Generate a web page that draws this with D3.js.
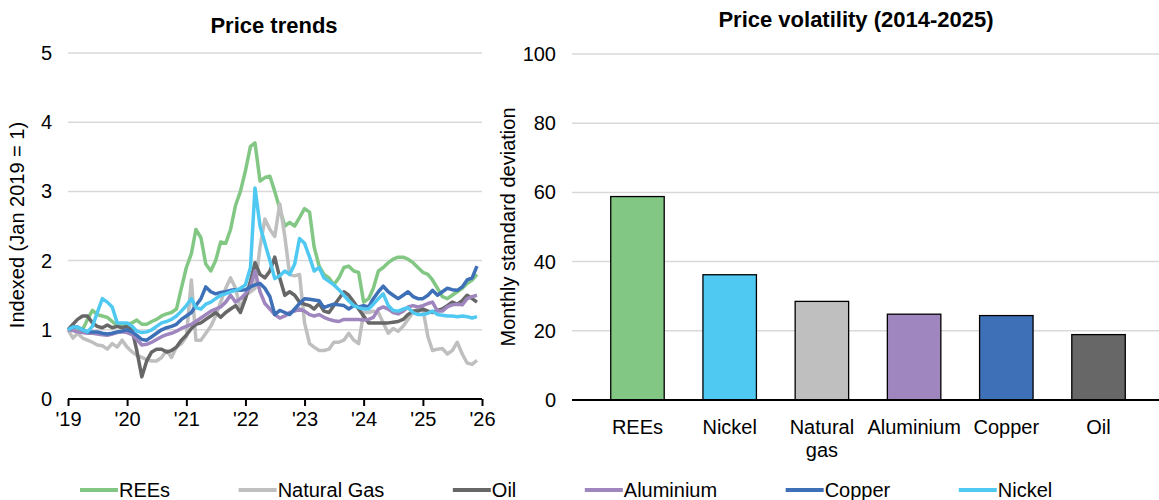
<!DOCTYPE html>
<html>
<head>
<meta charset="utf-8">
<script src="https://cdn.jsdelivr.net/npm/d3@7"></script>
<style>
  body { margin: 0; background: #fff; }
  svg { font-family: "Liberation Sans", Arial, sans-serif; }
  .grid line { stroke: #d9d9d9; stroke-width: 1.5; }
  .title { font-weight: bold; font-size: 22px; }
  .tick text { font-size: 20px; fill: #000; }
</style>
</head>
<body>
<div id="chart-area"><svg></svg></div>
<script>
const chartSize = { width: 1159, height: 500 };

// monthly index values, Jan 2019 .. Dec 2025
const ree = [1.0,1.0,0.98,1.0,1.15,1.28,1.22,1.2,1.18,1.12,1.06,1.05,1.08,1.1,1.14,1.08,1.08,1.12,1.15,1.2,1.23,1.25,1.3,1.6,
  1.9,2.1,2.45,2.33,1.95,1.85,2.0,2.27,2.25,2.45,2.8,3.0,3.3,3.65,3.7,3.15,3.2,3.22,3.0,2.75,2.5,2.55,2.5,2.62,
  2.75,2.7,2.2,1.92,1.8,1.75,1.65,1.75,1.9,1.92,1.85,1.83,1.4,1.45,1.6,1.85,1.9,1.97,2.02,2.05,2.05,2.02,1.97,1.9,
  1.83,1.8,1.72,1.6,1.48,1.45,1.5,1.55,1.6,1.67,1.72,1.8];
const gas = [1.0,0.88,0.95,0.88,0.85,0.82,0.78,0.77,0.72,0.8,0.75,0.85,0.75,0.68,0.63,0.6,0.57,0.55,0.55,0.6,0.7,0.6,0.75,0.8,
  0.9,1.72,0.85,0.85,0.95,1.05,1.2,1.4,1.6,1.75,1.6,1.3,1.5,1.55,1.6,2.2,2.6,2.45,2.35,2.82,2.35,1.8,1.78,1.8,
  1.1,0.8,0.75,0.7,0.7,0.72,0.82,0.82,0.85,0.95,0.85,0.8,1.25,1.25,1.27,1.25,1.1,0.95,1.02,0.98,1.05,1.15,1.25,1.3,
  1.3,0.9,0.7,0.72,0.73,0.65,0.7,0.82,0.65,0.52,0.5,0.56];
const oil = [1.0,1.08,1.15,1.2,1.2,1.1,1.05,1.03,1.07,1.03,1.05,1.03,1.05,1.0,0.7,0.32,0.55,0.68,0.72,0.72,0.68,0.7,0.75,0.85,
  0.92,1.02,1.08,1.1,1.15,1.2,1.25,1.18,1.25,1.3,1.35,1.25,1.45,1.7,1.97,1.8,1.75,1.85,2.05,1.75,1.5,1.55,1.5,1.4,
  1.37,1.35,1.3,1.38,1.27,1.25,1.35,1.45,1.55,1.5,1.4,1.3,1.2,1.1,1.1,1.1,1.1,1.1,1.11,1.12,1.15,1.22,1.27,1.27,
  1.3,1.27,1.25,1.28,1.3,1.35,1.4,1.37,1.42,1.5,1.45,1.4];
const aluminium = [1.0,0.99,0.97,0.96,0.95,0.95,0.94,0.93,0.92,0.94,0.96,0.97,0.96,0.93,0.86,0.78,0.79,0.82,0.86,0.9,0.93,0.95,0.98,1.02,
  1.05,1.08,1.12,1.17,1.22,1.27,1.3,1.33,1.4,1.5,1.4,1.45,1.52,1.62,1.85,1.55,1.38,1.3,1.22,1.17,1.2,1.25,1.27,1.3,
  1.27,1.22,1.2,1.22,1.18,1.15,1.13,1.12,1.15,1.15,1.15,1.15,1.14,1.15,1.18,1.3,1.33,1.3,1.25,1.23,1.27,1.33,1.35,1.33,
  1.35,1.38,1.4,1.27,1.27,1.33,1.36,1.37,1.36,1.45,1.48,1.5];
const copper = [1.0,1.04,1.04,1.0,0.97,0.97,0.97,0.95,0.94,0.95,0.97,0.98,1.0,0.97,0.92,0.86,0.85,0.9,0.95,1.0,1.03,1.05,1.08,1.15,
  1.2,1.25,1.35,1.45,1.62,1.55,1.52,1.54,1.55,1.57,1.58,1.57,1.58,1.62,1.65,1.67,1.6,1.48,1.22,1.28,1.25,1.22,1.3,1.38,
  1.45,1.44,1.43,1.42,1.32,1.35,1.37,1.36,1.35,1.3,1.35,1.33,1.35,1.33,1.45,1.55,1.63,1.55,1.5,1.45,1.5,1.55,1.48,1.45,
  1.45,1.5,1.57,1.5,1.55,1.6,1.58,1.57,1.62,1.72,1.75,1.92];
const nickel = [1.0,1.04,1.04,1.0,0.97,1.05,1.25,1.45,1.4,1.33,1.1,1.1,1.1,1.05,0.98,0.96,0.97,1.0,1.05,1.1,1.12,1.15,1.2,1.27,
  1.35,1.45,1.32,1.3,1.37,1.4,1.45,1.5,1.52,1.55,1.57,1.6,1.65,1.9,3.05,2.5,2.25,2.0,1.74,1.78,1.85,1.8,1.95,2.32,
  2.25,2.05,1.85,1.9,1.75,1.7,1.65,1.58,1.5,1.42,1.35,1.32,1.3,1.3,1.37,1.45,1.52,1.35,1.28,1.27,1.3,1.32,1.25,1.22,
  1.22,1.24,1.27,1.22,1.21,1.2,1.2,1.19,1.2,1.19,1.17,1.19];

const seriesNames = ["REEs", "Natural Gas", "Oil", "Aluminium", "Copper", "Nickel"];
const seriesColours = ["#82c884", "#bfbfbf", "#676767", "#9f86be", "#3e70b8", "#50c9f2"];
const seriesValues = [ree, gas, oil, aluminium, copper, nickel];
const trendTicks = [0, 1, 2, 3, 4, 5];

// volatility bars
const commodities = ["REEs", "Nickel", "Natural gas", "Aluminium", "Copper", "Oil"];
const volatility = [58.8, 36.2, 28.5, 24.8, 24.4, 18.9];
const barColours = ["#82c884", "#50c9f2", "#bfbfbf", "#9f86be", "#3e70b8", "#676767"];
const volatilityTicks = [0, 20, 40, 60, 80, 100];

const svg = d3.select("#chart-area svg")
  .attr("width", chartSize.width)
  .attr("height", chartSize.height);

const start = new Date(2019, 0, 1);
const months = d3.range(ree.length).map(i => d3.timeMonth.offset(start, i));

const drawTrends = () => {
  const left = { x0: 68, x1: 482, y0: 399, y1: 53 };
  const x = d3.scaleTime().domain([start, new Date(2026, 0, 1)]).range([left.x0, left.x1]);
  const y = d3.scaleLinear().domain([0, 5]).range([left.y0, left.y1]);

  svg.append("g").attr("class", "grid")
    .selectAll("line").data(trendTicks.slice(1)).enter().append("line")
    .attr("x1", left.x0).attr("x2", left.x1)
    .attr("y1", d => y(d)).attr("y2", d => y(d));

  const yAxis = d3.axisLeft(y).tickValues(trendTicks).tickFormat(d3.format("d"))
    .tickSize(0).tickPadding(16);
  svg.append("g").attr("transform", `translate(${left.x0},0)`).call(yAxis)
    .call(g => g.select(".domain").remove());

  const line = d3.line().x((d, i) => x(months[i])).y(d => y(d));
  svg.append("g").selectAll("path").data(seriesValues).enter().append("path")
    .attr("d", line)
    .attr("fill", "none")
    .attr("stroke", (d, i) => seriesColours[i])
    .attr("stroke-width", 3.5)
    .attr("stroke-linejoin", "round");

  const xAxis = d3.axisBottom(x).ticks(d3.timeYear.every(1))
    .tickFormat(d3.timeFormat("'%y")).tickSize(7).tickPadding(6);
  svg.append("g").attr("transform", `translate(0,${left.y0})`).call(xAxis)
    .call(g => g.select(".domain").attr("stroke-width", 2).attr("d", `M${left.x0},0H${left.x1}`))
    .call(g => g.selectAll(".tick line").attr("stroke-width", 2));

  svg.append("text").attr("class", "title")
    .attr("x", 274).attr("y", 33).attr("text-anchor", "middle").text("Price trends");

  svg.append("text")
    .attr("transform", `translate(24,${(left.y0 + left.y1) / 2 - 1}) rotate(-90)`)
    .attr("text-anchor", "middle").attr("font-size", 20)
    .text("Indexed (Jan 2019 = 1)");
};

const drawVolatility = () => {
  const right = { x0: 572, x1: 1164, y0: 400, y1: 54 };
  const x = d3.scaleBand().domain(commodities).range([right.x0, right.x1]).padding(0.42);
  const y = d3.scaleLinear().domain([0, 100]).range([right.y0, right.y1]);

  svg.append("g").attr("class", "grid")
    .selectAll("line").data(volatilityTicks.slice(1)).enter().append("line")
    .attr("x1", right.x0).attr("x2", chartSize.width)
    .attr("y1", d => y(d)).attr("y2", d => y(d));

  const yAxis = d3.axisLeft(y).tickValues(volatilityTicks).tickSize(0).tickPadding(16);
  svg.append("g").attr("transform", `translate(${right.x0},0)`).call(yAxis)
    .call(g => g.select(".domain").remove());

  svg.append("g").selectAll("rect").data(volatility).enter().append("rect")
    .attr("x", (d, i) => x(commodities[i]))
    .attr("y", d => y(d))
    .attr("width", x.bandwidth())
    .attr("height", d => y(0) - y(d))
    .attr("fill", (d, i) => barColours[i])
    .attr("stroke", "#000")
    .attr("stroke-width", 1.3);

  const xAxis = d3.axisBottom(x).tickSize(0).tickPadding(20);
  svg.append("g").attr("transform", `translate(0,${right.y0})`).call(xAxis)
    .call(g => g.select(".domain").attr("stroke-width", 2).attr("d", `M${right.x0},0H${chartSize.width}`))
    .call(g => g.selectAll(".tick text").each(function(d) {
      const words = d.split(" ");
      if (words.length < 2) return;
      const t = d3.select(this).text(null);
      words.forEach((w, k) => t.append("tspan").attr("x", 0).attr("dy", k ? "1.15em" : "0.71em").text(w));
    }));

  svg.append("text").attr("class", "title")
    .attr("x", 856).attr("y", 27).attr("text-anchor", "middle").text("Price volatility (2014-2025)");

  svg.append("text")
    .attr("transform", `translate(515,${(right.y0 + right.y1) / 2}) rotate(-90)`)
    .attr("text-anchor", "middle").attr("font-size", 20)
    .text("Monthly standard deviation");
};

const drawLegend = () => {
  const legend = svg.append("g").attr("transform", "translate(80,490)");
  let cursor = 0;
  seriesNames.forEach((name, i) => {
    const item = legend.append("g").attr("transform", `translate(${cursor},0)`);
    item.append("line").attr("x1", 0).attr("x2", 38)
      .attr("stroke", seriesColours[i]).attr("stroke-width", 4);
    const label = item.append("text").attr("x", 39).attr("y", 7)
      .attr("font-size", 20).text(name);
    cursor += 39 + label.node().getComputedTextLength() + 68.5;
  });
};

drawTrends();
drawVolatility();
drawLegend();
</script>
</body>
</html>
